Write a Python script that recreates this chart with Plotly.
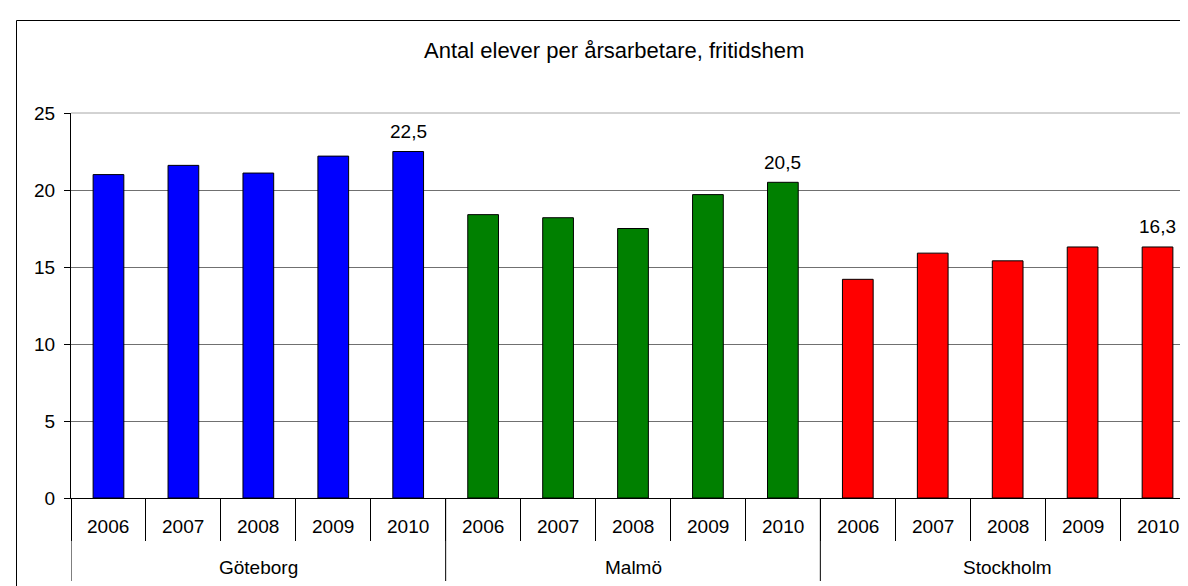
import plotly.graph_objects as go

# ---- data ----
title_text = "Antal elever per årsarbetare, fritidshem"
cities = ["Göteborg", "Malmö", "Stockholm"]
years = ["2006", "2007", "2008", "2009", "2010"]
goteborg = [21.0, 21.6, 21.1, 22.2, 22.5]
malmo = [18.4, 18.2, 17.5, 19.7, 20.5]
stockholm = [14.2, 15.9, 15.4, 16.3, 16.3]
city_values = [goteborg, malmo, stockholm]
city_colors = ["#0000FF", "#008000", "#FF0000"]

# ---- layout geometry (pixels) ----
W, H = 1188, 586
ML, MR, MT, MB = 63, 1, 105, 96
PW = W - ML - MR
PH = H - MT - MB
FONT = "Arial, Liberation Sans, sans-serif"
FS = 19
TITLE_FS = 22


def paper_x(px):
    return (px - ML) / PW


def paper_y(py):
    return (H - MB - py) / PH


n_years = len(years)
fig = go.Figure()
annotations = []
for ci, (city, vals, col) in enumerate(zip(cities, city_values, city_colors)):
    xs = [ci * n_years + yi for yi in range(n_years)]
    fig.add_trace(go.Bar(
        x=xs, y=vals, name=city,
        marker=dict(color=col, line=dict(color="black", width=1)),
        hoverinfo="y",
    ))
    # year labels
    for x, yr in zip(xs, years):
        annotations.append(dict(x=x, y=0, xref="x", yref="paper", text=yr,
                                showarrow=False, yshift=-28.5, yanchor="middle",
                                font=dict(family=FONT, size=FS, color="black")))
    # city label
    annotations.append(dict(x=xs[len(xs) // 2], y=0, xref="x", yref="paper", text=city,
                            showarrow=False, yshift=-69, yanchor="middle",
                            font=dict(family=FONT, size=FS, color="black")))
    # value label on last year
    annotations.append(dict(x=xs[-1], y=vals[-1], xref="x", yref="y",
                            text=f"{vals[-1]:.1f}".replace(".", ","),
                            showarrow=False, yshift=20, yanchor="middle",
                            font=dict(family=FONT, size=FS, color="black")))

n_cat = len(cities) * n_years
shapes = []
div_bottom = paper_y(573)
for g in range(len(cities) + 1):
    xb = g * n_years - 0.5
    shapes.append(dict(type="line", xref="x", yref="paper", x0=xb, x1=xb,
                       y0=0, y1=div_bottom,
                       line=dict(color="black" if g < len(cities) else "#A0A0A0", width=1)))
# plot area border (top, right) in gray
shapes.append(dict(type="line", xref="x", yref="paper", x0=-0.5, x1=n_cat - 0.5,
                   y0=1, y1=1, line=dict(color="#A6A6A6", width=1), layer="above"))
shapes.append(dict(type="line", xref="x", yref="paper", x0=n_cat - 0.5, x1=n_cat - 0.5,
                   y0=1, y1=0, line=dict(color="#A6A6A6", width=1), layer="above"))
# chart outer border
shapes.append(dict(type="rect", xref="paper", yref="paper",
                   x0=paper_x(8.5), x1=paper_x(W + 10), y0=paper_y(H + 10), y1=paper_y(12.5),
                   line=dict(color="black", width=1), fillcolor="rgba(0,0,0,0)"))

annotations.append(dict(text=title_text, xref="paper", yref="paper",
                        x=paper_x(605.5), y=paper_y(42), showarrow=False,
                        xanchor="center", yanchor="middle",
                        font=dict(family=FONT, size=TITLE_FS, color="black")))

fig.update_layout(
    width=W, height=H,
    margin=dict(l=ML, r=MR, t=MT, b=MB, pad=0),
    paper_bgcolor="white", plot_bgcolor="white",
    barmode="overlay", bargap=0.59,
    showlegend=False,
    font=dict(family=FONT, size=FS, color="black"),
    annotations=annotations,
    shapes=shapes,
)
fig.update_xaxes(
    range=[-0.5, n_cat - 0.5],
    tickmode="linear", tick0=-0.5, dtick=1,
    ticks="outside", ticklen=42, tickcolor="black", tickwidth=1,
    showticklabels=False, showgrid=False, zeroline=False,
    showline=True, linecolor="black", linewidth=1,
)
fig.update_yaxes(
    range=[0, 25], tickmode="linear", tick0=0, dtick=5,
    ticks="outside", ticklen=6, tickcolor="black", tickwidth=1,
    ticklabelstandoff=5,
    showgrid=True, gridcolor="#707070", gridwidth=1,
    zeroline=False, showline=True, linecolor="black", linewidth=1,
    tickfont=dict(family=FONT, size=FS, color="black"),
)

fig.write_html("out.html")
